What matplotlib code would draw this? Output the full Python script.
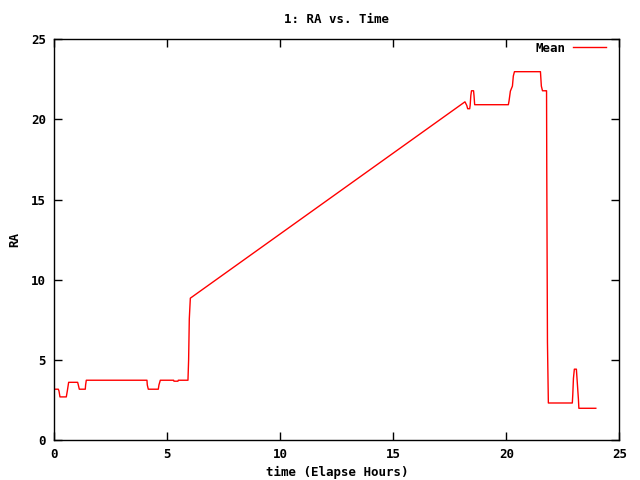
import matplotlib

matplotlib.use("Agg")
import matplotlib.pyplot as plt

# Breakpoints (time in hours, RA in hours)
hours = [
    0.0, 0.178, 0.208, 0.252, 0.532, 0.577, 0.636, 1.034, 1.063, 1.108,
    1.372, 1.387, 1.417, 4.101, 4.115, 4.160, 4.602, 4.632, 4.691, 5.280,
    5.295, 5.472, 5.487, 5.915, 5.944, 5.974, 6.02,
    18.17, 18.25, 18.29, 18.38, 18.40, 18.43, 18.46, 18.55, 18.57, 18.60,
    20.09, 20.12, 20.18, 20.27, 20.31, 20.36, 21.51, 21.55, 21.60, 21.76,
    21.78, 21.79, 21.82, 21.86, 22.92, 22.94, 22.97, 23.01, 23.10, 23.13,
    23.19, 23.21, 23.96,
]
ra_mean = [
    3.17, 3.17, 3.06, 2.69, 2.69, 3.06, 3.60, 3.60, 3.44, 3.17,
    3.17, 3.44, 3.73, 3.73, 3.44, 3.17, 3.17, 3.44, 3.73, 3.73,
    3.67, 3.67, 3.73, 3.73, 5.00, 7.56, 8.85,
    21.10, 20.875, 20.67, 20.67, 20.875, 21.50, 21.79, 21.79, 21.50, 20.92,
    20.92, 21.15, 21.77, 22.08, 22.71, 22.98, 22.98, 22.08, 21.79, 21.79,
    21.79, 16.74, 6.10, 2.31, 2.31, 2.81, 3.85, 4.42, 4.42, 3.79,
    2.54, 1.98, 1.98,
]
x_ticks = [0, 5, 10, 15, 20, 25]
y_ticks = [0, 5, 10, 15, 20, 25]

font = {"family": "DejaVu Sans Mono", "weight": "bold", "size": 9}
plt.rcParams["font.family"] = "DejaVu Sans Mono"
plt.rcParams["font.weight"] = "bold"
plt.rcParams["font.size"] = 9

fig = plt.figure(figsize=(6.4, 4.8), dpi=100)
ax = fig.add_axes([0.0848, 0.0833, 0.8829, 0.8348])

ax.plot(hours, ra_mean, color="#ff0000", linewidth=1.0, label="Mean")

ax.set_xlim(0, 25)
ax.set_ylim(0, 25)
ax.set_xticks(x_ticks)
ax.set_yticks(y_ticks)
ax.tick_params(direction="in", length=6, width=1, top=True, right=True,
               labelsize=9, pad=6, colors="black")
for s in ax.spines.values():
    s.set_linewidth(1.0)

ax.set_title("1: RA vs. Time", fontdict=font, pad=12)
ax.set_xlabel("time (Elapse Hours)", fontdict=font, labelpad=3)
ax.set_ylabel("RA", fontdict=font, labelpad=7)

ax.legend(loc="center right", bbox_to_anchor=(0.976, 0.9776),
          frameon=False, markerfirst=False, handlelength=2.6,
          handletextpad=0.64, borderpad=0, borderaxespad=0, prop=font)

fig.savefig("out.png", dpi=100, facecolor="white")
plt.close(fig)
